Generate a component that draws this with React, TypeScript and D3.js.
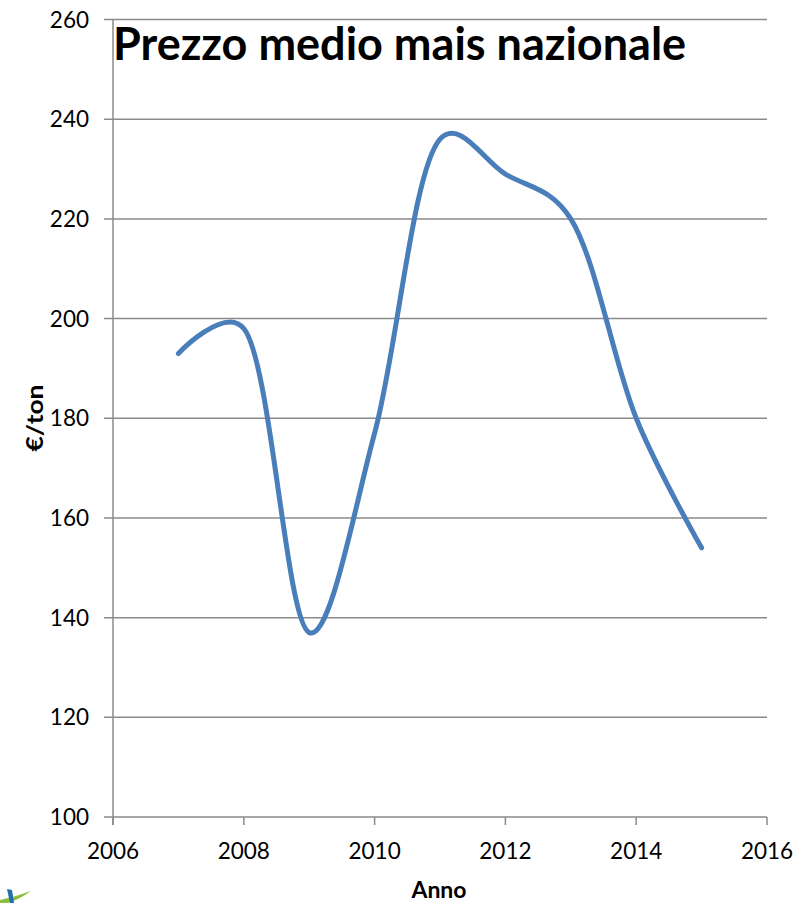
import React from "react";
import * as d3 from "d3";

const years = [2007, 2008, 2009, 2010, 2011, 2012, 2013, 2014, 2015];
const prices = [193, 198, 137, 177, 236, 229, 220, 180, 154];
const xTicks = [2006, 2008, 2010, 2012, 2014, 2016];
const yTicks = [100, 120, 140, 160, 180, 200, 220, 240, 260];
const title = "Prezzo medio mais nazionale";
const xTitle = "Anno";
const yTitle = "€/ton";

const W = 796;
const H = 903;
const FONT = "Lato, 'Open Sans', sans-serif";

export default function App() {
  const x = d3.scaleLinear().domain([2006, 2016]).range([113, 767]);
  const y = d3.scaleLinear().domain([100, 260]).range([817, 19.5]);
  const line = d3
    .line<number>()
    .x((_, i) => x(years[i]))
    .y((d) => y(d))
    .curve(d3.curveCatmullRom.alpha(0.25));
  const grid = "#8a8a8a";
  return (
    <svg
      width={W}
      height={H}
      style={{ position: "absolute", left: 0, top: 0, background: "#fff" }}
    >
      <rect x={0} y={0} width={W} height={H} fill="#fff" />
      {yTicks.map((t) => (
        <g key={t}>
          <line x1={104} x2={767} y1={y(t)} y2={y(t)} stroke={grid} strokeWidth={1.5} />
          <text
            x={89}
            y={y(t)}
            dy="0.36em"
            textAnchor="end"
            fontFamily={FONT}
            fontSize={22.5}
            fill="#000"
          >
            {t}
          </text>
        </g>
      ))}
      <line x1={113} x2={113} y1={y(260)} y2={825} stroke={grid} strokeWidth={1.5} />
      {xTicks.map((t) => (
        <g key={t}>
          <line x1={x(t)} x2={x(t)} y1={817} y2={825} stroke={grid} strokeWidth={1.5} />
          <text
            x={x(t)}
            y={859}
            textAnchor="middle"
            fontFamily={FONT}
            fontSize={22.5}
            fill="#000"
          >
            {t}
          </text>
        </g>
      ))}
      <path
        d={line(prices) || ""}
        fill="none"
        stroke="#4a7ebb"
        strokeWidth={5}
        strokeLinecap="round"
        strokeLinejoin="round"
      />
      <text
        x={113}
        y={60}
        fontFamily={FONT}
        fontWeight="bold"
        fontSize={45}
        fill="#000"
      >
        {title}
      </text>
      <text
        transform="translate(43,418) rotate(-90)"
        textAnchor="middle"
        fontFamily={FONT}
        fontWeight="bold"
        fontSize={23}
        textLength={67}
        lengthAdjust="spacingAndGlyphs"
        fill="#000"
      >
        {yTitle}
      </text>
      <text
        x={439}
        y={898}
        textAnchor="middle"
        fontFamily={FONT}
        fontWeight="bold"
        fontSize={23}
        fill="#000"
      >
        {xTitle}
      </text>
      <path d="M0,900 Q15,897 31,891 Q20,899 8,903 L0,903 Z" fill="#8cbf3f" />
      <path d="M7,889 L12,890 L14,903 L10,903 Z" fill="#1f6fae" />
    </svg>
  );
}
